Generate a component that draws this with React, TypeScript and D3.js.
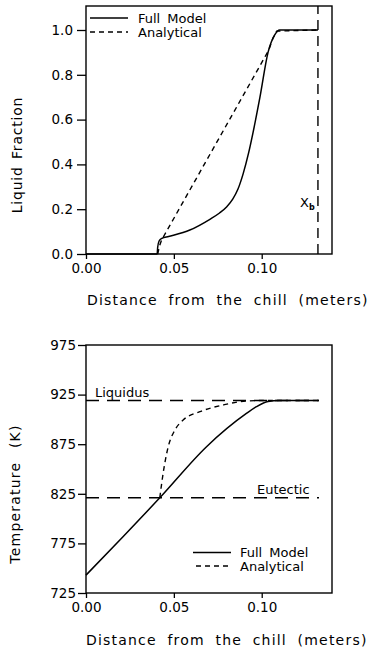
import { useEffect, useRef } from 'react';
import * as d3 from 'd3';

// Top panel: liquid fraction vs distance from the chill
const fullFracX = [0, 0.0405, 0.0408, 0.0416, 0.0432, 0.047, 0.0591, 0.0705, 0.076, 0.08, 0.0835, 0.0865, 0.0895, 0.0925, 0.095, 0.099, 0.1036, 0.1074, 0.1102, 0.132];
const fullFrac = [0, 0, 0.03, 0.058, 0.07, 0.078, 0.107, 0.155, 0.183, 0.21, 0.245, 0.29, 0.36, 0.45, 0.54, 0.7, 0.9, 0.978, 1.0, 1.0];
const anaFracX = [0.0408, 0.0418, 0.043, 0.104, 0.1065, 0.1085, 0.132];
const anaFrac = [0, 0.035, 0.062, 0.91, 0.965, 0.995, 1.0];

// Bottom panel: temperature vs distance from the chill
const fullTempX = [0, 0.0212, 0.042, 0.0686, 0.0913, 0.097, 0.1036, 0.11, 0.1326];
const fullTemp = [743, 782, 821, 872.5, 906, 912.8, 918, 919, 919];
const anaTempX = [0.042, 0.0439, 0.0468, 0.0506, 0.0553, 0.0648, 0.078, 0.0875, 0.1, 0.1326];
const anaTemp = [821, 845.7, 872.5, 889.3, 899.4, 907.8, 914.5, 917.8, 919, 919];

const liquidusT = 919;
const eutecticT = 821;
const xb = 0.132;
const lineEnd = 0.1326;

const xTicks = [0, 0.05, 0.1];
const fracTicks = [0, 0.2, 0.4, 0.6, 0.8, 1.0];
const tempTicks = [725, 775, 825, 875, 925, 975];

const FONT = 'DejaVu Sans';

const App = () => {
  const svgRef = useRef<SVGSVGElement>(null);

  useEffect(() => {
    const svg = d3.select(svgRef.current);
    svg.selectAll('*').remove();

    const left = 86;
    const right = 332;

    const x = d3.scaleLinear().domain([0, 0.14]).range([left, right]);

    // ---------- top panel ----------
    const y1 = d3.scaleLinear().domain([0, 1.0]).range([254, 30]);
    const top1 = 6;
    const g1 = svg.append('g');

    g1.append('rect')
      .attr('x', left).attr('y', top1)
      .attr('width', right - left).attr('height', y1(0) - top1)
      .attr('fill', 'none').attr('stroke', '#000').attr('stroke-width', 1.4);

    g1.append('g')
      .attr('transform', `translate(0,${y1(0)})`)
      .call(d3.axisBottom(x).tickValues(xTicks).tickSize(5).tickPadding(4).tickFormat(d3.format('.2f')))
      .call((g) => g.select('.domain').remove());

    g1.append('g')
      .attr('transform', `translate(${left},0)`)
      .call(d3.axisLeft(y1).tickValues(fracTicks).tickSize(9).tickPadding(4).tickFormat(d3.format('.1f')))
      .call((g) => g.select('.domain').remove());

    const fracLine = (xs: number[], ys: number[], curve: d3.CurveFactory) =>
      d3.line<number>().x((d) => x(d)).y((_, i) => y1(ys[i])).curve(curve)(xs);

    g1.append('path').attr('d', fracLine(fullFracX, fullFrac, d3.curveMonotoneX))
      .attr('fill', 'none').attr('stroke', '#000').attr('stroke-width', 1.5);
    g1.append('path').attr('d', fracLine(anaFracX, anaFrac, d3.curveLinear))
      .attr('fill', 'none').attr('stroke', '#000').attr('stroke-width', 1.4)
      .attr('stroke-dasharray', '5,4');

    // X_b marker
    g1.append('line')
      .attr('x1', x(xb)).attr('x2', x(xb))
      .attr('y1', y1(0)).attr('y2', top1)
      .attr('stroke', '#000').attr('stroke-width', 1.4).attr('stroke-dasharray', '10,6');
    const xbText = g1.append('text').attr('x', 300).attr('y', 207)
      .attr('font-size', 13).attr('font-family', FONT);
    xbText.append('tspan').text('X');
    xbText.append('tspan').attr('dy', 3).attr('font-size', 8).attr('font-weight', 'bold').text('b');

    // legend
    g1.append('line').attr('x1', 90).attr('x2', 128).attr('y1', 18).attr('y2', 18)
      .attr('stroke', '#000').attr('stroke-width', 1.3);
    g1.append('line').attr('x1', 90).attr('x2', 128).attr('y1', 32).attr('y2', 32)
      .attr('stroke', '#000').attr('stroke-width', 1.3).attr('stroke-dasharray', '5,4');
    g1.append('text').attr('x', 138).attr('y', 22.5).attr('word-spacing', 3).text('Full Model');
    g1.append('text').attr('x', 138).attr('y', 36.5).text('Analytical');

    g1.append('text')
      .attr('transform', `translate(22,155) rotate(-90)`)
      .attr('text-anchor', 'middle')
      .attr('font-size', 14).attr('letter-spacing', 0.8).attr('word-spacing', 2)
      .text('Liquid Fraction');

    g1.append('text')
      .attr('x', 87).attr('y', 305)
      .attr('font-size', 14).attr('letter-spacing', 1.2).attr('word-spacing', 5)
      .text('Distance from the chill (meters)');

    // ---------- bottom panel ----------
    const y2 = d3.scaleLinear().domain([725, 975]).range([593, 345]);
    const g2 = svg.append('g');

    g2.append('rect')
      .attr('x', left).attr('y', y2(975))
      .attr('width', right - left).attr('height', y2(725) - y2(975))
      .attr('fill', 'none').attr('stroke', '#000').attr('stroke-width', 1.4);

    g2.append('g')
      .attr('transform', `translate(0,${y2(725)})`)
      .call(d3.axisBottom(x).tickValues(xTicks).tickSize(5).tickPadding(4).tickFormat(d3.format('.2f')))
      .call((g) => g.select('.domain').remove());

    g2.append('g')
      .attr('transform', `translate(${left},0)`)
      .call(d3.axisLeft(y2).tickValues(tempTicks).tickSize(8).tickPadding(2).tickFormat(d3.format('d')))
      .call((g) => g.select('.domain').remove());

    const refLine = (t: number) =>
      g2.append('line')
        .attr('x1', x(0)).attr('x2', x(lineEnd))
        .attr('y1', y2(t)).attr('y2', y2(t))
        .attr('stroke', '#000').attr('stroke-width', 1.4).attr('stroke-dasharray', '13,8');
    refLine(liquidusT);
    refLine(eutecticT);

    g2.append('text').attr('x', 95).attr('y', 397).text('Liquidus');
    g2.append('text').attr('x', 257).attr('y', 494).text('Eutectic');

    const tempLine = (xs: number[], ys: number[]) =>
      d3.line<number>().x((d) => x(d)).y((_, i) => y2(ys[i])).curve(d3.curveMonotoneX)(xs);

    g2.append('path').attr('d', tempLine(fullTempX, fullTemp))
      .attr('fill', 'none').attr('stroke', '#000').attr('stroke-width', 1.5);
    g2.append('path').attr('d', tempLine(anaTempX, anaTemp))
      .attr('fill', 'none').attr('stroke', '#000').attr('stroke-width', 1.4)
      .attr('stroke-dasharray', '5,4');

    // legend
    g2.append('line').attr('x1', 193).attr('x2', 231).attr('y1', 552.5).attr('y2', 552.5)
      .attr('stroke', '#000').attr('stroke-width', 1.3);
    g2.append('line').attr('x1', 196).attr('x2', 231).attr('y1', 566).attr('y2', 566)
      .attr('stroke', '#000').attr('stroke-width', 1.3).attr('stroke-dasharray', '5,4');
    g2.append('text').attr('x', 240).attr('y', 557).attr('word-spacing', 3).text('Full Model');
    g2.append('text').attr('x', 240).attr('y', 570.5).text('Analytical');

    g2.append('text')
      .attr('transform', `translate(20,494) rotate(-90)`)
      .attr('text-anchor', 'middle')
      .attr('font-size', 14).attr('letter-spacing', 1.2).attr('word-spacing', 8)
      .text('Temperature (K)');

    g2.append('text')
      .attr('x', 86).attr('y', 645)
      .attr('font-size', 14).attr('letter-spacing', 1.2).attr('word-spacing', 5)
      .text('Distance from the chill (meters)');

    // shared text styling
    svg.selectAll('text').attr('font-family', FONT).attr('fill', '#000');
    svg.selectAll('text:not([font-size])').attr('font-size', 13);
    svg.selectAll('.tick text').attr('font-size', 13.5);
    svg.selectAll('.tick line').attr('stroke-width', 1.3);
  }, []);

  return (
    <svg
      ref={svgRef}
      width={370}
      height={652}
      style={{ position: 'absolute', left: 0, top: 0, background: '#fff' }}
    />
  );
};

export default App;
